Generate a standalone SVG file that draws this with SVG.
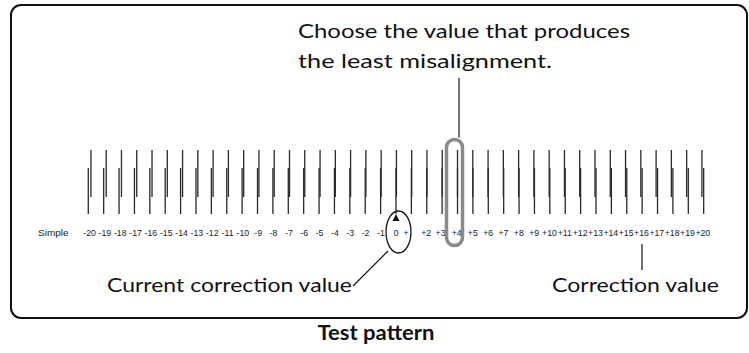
<svg xmlns="http://www.w3.org/2000/svg" width="749" height="353" viewBox="0 0 749 353">
<style>
.big{font-family:Lato,"Open Sans","Liberation Sans",sans-serif;font-size:20px;fill:#111}
.lbl{font-family:"Liberation Sans",Arial,sans-serif;font-size:9.7px;fill:#222;text-anchor:middle}
.tick{stroke:#2a2a2a;stroke-width:1.3;fill:none}
.thin{stroke:#111;stroke-width:1.2;fill:none}
</style>
<rect id="frame" x="11" y="5" width="736" height="313" rx="10" fill="#fff" stroke="#111" stroke-width="2"/>
<g id="pattern">
<path class="tick" d="M90.92 150V197M106.2 150V197M121.47 150V197M136.75 150V197M152.02 150V197M167.3 150V197M182.57 150V197M197.85 150V197M213.12 150V197M228.4 150V197M243.67 150V197M258.95 150V197M274.22 150V197M289.5 150V197M304.77 150V197M320.05 150V197M335.32 150V197M350.6 150V197M365.87 150V197M381.15 150V197M396.42 150V197M411.7 150V197M426.97 150V197M442.25 150V197M457.52 150V197M472.8 150V197M488.07 150V197M503.35 150V197M518.62 150V197M533.9 150V197M549.17 150V197M564.45 150V197M579.72 150V197M595 150V197M610.27 150V197M625.55 150V197M640.82 150V197M656.1 150V197M671.37 150V197M686.65 150V197M701.92 150V197"/>
<path class="tick" stroke="#555" d="M88.28 168V214M103.67 168V214M119.05 168V214M134.44 168V214M149.82 168V214M165.2 168V214M180.59 168V214M195.98 168V214M211.36 168V214M226.75 168V214M242.13 168V214M257.52 168V214M272.9 168V214M288.29 168V214M303.67 168V214M319.06 168V214M334.44 168V214M349.83 168V214M365.21 168V214M380.6 168V214M395.98 168V214M411.37 168V214M426.75 168V214M442.14 168V214M457.52 168V214M472.9 168V214M488.29 168V214M503.68 168V214M519.06 168V214M534.45 168V214M549.83 168V214M565.22 168V214M580.6 168V214M595.99 168V214M611.37 168V214M626.76 168V214M642.14 168V214M657.53 168V214M672.91 168V214M688.3 168V214M703.68 168V214"/>
</g>
<g id="labels" transform="scale(0.9 1)">
<text class="lbl" x="42.22" y="236" style="text-anchor:start" textLength="34" lengthAdjust="spacingAndGlyphs">Simple</text>
<text class="lbl" x="99.56" y="236">-20</text>
<text class="lbl" x="116.59" y="236">-19</text>
<text class="lbl" x="133.62" y="236">-18</text>
<text class="lbl" x="150.66" y="236">-17</text>
<text class="lbl" x="167.69" y="236">-16</text>
<text class="lbl" x="184.72" y="236">-15</text>
<text class="lbl" x="201.76" y="236">-14</text>
<text class="lbl" x="218.79" y="236">-13</text>
<text class="lbl" x="235.82" y="236">-12</text>
<text class="lbl" x="252.86" y="236">-11</text>
<text class="lbl" x="269.89" y="236">-10</text>
<text class="lbl" x="286.92" y="236">-9</text>
<text class="lbl" x="303.96" y="236">-8</text>
<text class="lbl" x="320.99" y="236">-7</text>
<text class="lbl" x="338.02" y="236">-6</text>
<text class="lbl" x="355.06" y="236">-5</text>
<text class="lbl" x="372.09" y="236">-4</text>
<text class="lbl" x="389.12" y="236">-3</text>
<text class="lbl" x="406.16" y="236">-2</text>
<text class="lbl" x="423.19" y="236">-1</text>
<text class="lbl" x="440.22" y="236">0</text>
<text class="lbl" x="451.11" y="236">+</text>
<text class="lbl" x="473.5" y="236">+2</text>
<text class="lbl" x="489.5" y="236">+3</text>
<text class="lbl" x="507.5" y="236">+4</text>
<text class="lbl" x="525.39" y="236">+5</text>
<text class="lbl" x="542.42" y="236">+6</text>
<text class="lbl" x="559.46" y="236">+7</text>
<text class="lbl" x="576.49" y="236">+8</text>
<text class="lbl" x="593.52" y="236">+9</text>
<text class="lbl" x="610.56" y="236">+10</text>
<text class="lbl" x="627.59" y="236">+11</text>
<text class="lbl" x="644.62" y="236">+12</text>
<text class="lbl" x="661.66" y="236">+13</text>
<text class="lbl" x="678.69" y="236">+14</text>
<text class="lbl" x="695.72" y="236">+15</text>
<text class="lbl" x="712.76" y="236">+16</text>
<text class="lbl" x="729.79" y="236">+17</text>
<text class="lbl" x="746.82" y="236">+18</text>
<text class="lbl" x="763.86" y="236">+19</text>
<text class="lbl" x="780.89" y="236">+20</text>
</g>
<g id="best-highlight">
<rect x="446.5" y="139.5" width="16" height="106" rx="8" fill="none" stroke="#8a8a8a" stroke-width="3.5"/>
</g>
<g id="current-marker">
<ellipse cx="398.5" cy="232" rx="12.5" ry="21" fill="none" stroke="#111" stroke-width="1.3"/>
<polygon points="392.5,221 399.5,221 396,214" fill="#111"/>
</g>
<g id="connectors">
<line class="thin" x1="459" y1="78" x2="459" y2="137.5"/>
<line class="thin" x1="388" y1="251" x2="353" y2="286"/>
<line class="thin" x1="642" y1="244" x2="642" y2="270"/>
</g>
<g id="note-choose">
<text class="big" x="298" y="38" textLength="332" lengthAdjust="spacingAndGlyphs">Choose the value that produces</text>
<text class="big" x="298" y="68" textLength="254" lengthAdjust="spacingAndGlyphs">the least misalignment.</text>
</g>
<g id="note-current">
<text class="big" x="107" y="292" textLength="245" lengthAdjust="spacingAndGlyphs">Current correction value</text>
</g>
<g id="note-correction">
<text class="big" x="552" y="292" textLength="167" lengthAdjust="spacingAndGlyphs">Correction value</text>
</g>
<g id="caption">
<text class="big" x="376" y="340" text-anchor="middle" font-weight="bold" textLength="117" lengthAdjust="spacingAndGlyphs">Test pattern</text>
</g>
</svg>
